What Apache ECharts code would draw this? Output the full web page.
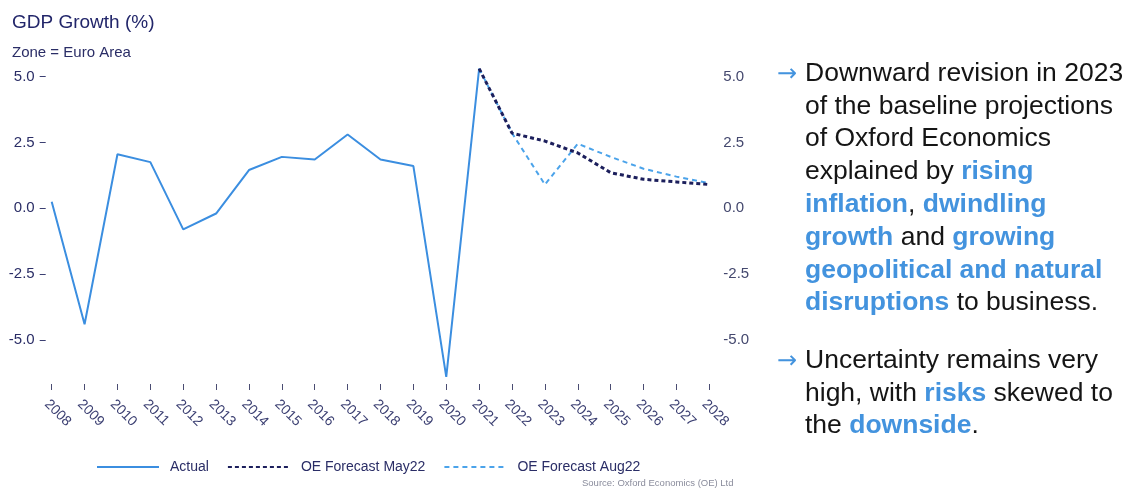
<!DOCTYPE html>
<html>
<head>
<meta charset="utf-8">
<script src="https://cdn.jsdelivr.net/npm/echarts@6/dist/echarts.min.js"></script>
<style>
  html, body { margin: 0; padding: 0; background: #fff; }
  #chart { width: 1127px; height: 488px; }
</style>
</head>
<body>
<div id="chart"></div>
<script>
const years = ["2008", "2009", "2010", "2011", "2012", "2013", "2014", "2015", "2016", "2017", "2018",
  "2019", "2020", "2021", "2022", "2023", "2024", "2025", "2026", "2027", "2028"];
const actual = [0.25, -4.4, 2.05, 1.75, -0.8, -0.2, 1.45, 1.95, 1.85, 2.8, 1.85, 1.6, -6.4, 5.3,
  null, null, null, null, null, null, null];
const forecastMay22 = [null, null, null, null, null, null, null, null, null, null, null, null, null,
  5.3, 2.85, 2.55, 2.1, 1.35, 1.1, 1.0, 0.9];
const forecastAug22 = [null, null, null, null, null, null, null, null, null, null, null, null, null,
  5.3, 2.85, 0.9, 2.45, 1.95, 1.5, 1.2, 0.95];
const yTicks = [-5, -2.5, 0, 2.5, 5];

const font = "Liberation Sans, Arial, sans-serif";
const navy = "#2a2d66";
const blue = "#4393de";

const chart = echarts.init(document.getElementById("chart"));

const fmt = v => v.toFixed(1);

const textRich = {
  n: { fontSize: 26.5, lineHeight: 32.8, fill: "#151515", fontFamily: font },
  b: { fontSize: 26.5, lineHeight: 32.8, fill: blue, fontWeight: "bold", fontFamily: font }
};

const option = {
  animation: false,
  textStyle: { fontFamily: font },
  title: {
    text: "GDP Growth (%)",
    subtext: "Zone = Euro Area",
    left: 12,
    top: 13,
    padding: 0,
    itemGap: 13,
    textStyle: { fontSize: 19, fontWeight: "normal", color: "#22266a", fontFamily: font },
    subtextStyle: { fontSize: 15, color: navy, fontFamily: font }
  },
  grid: { left: 51.7, right: 417.7, top: 60.7, bottom: 104 },
  legend: {
    left: 91,
    top: 455,
    itemWidth: 62,
    itemHeight: 14,
    itemGap: 18,
    itemStyle: { opacity: 0 },
    textStyle: { fontSize: 14, color: navy, fontFamily: font, padding: [0, 0, 0, 6] },
    data: ["Actual", "OE Forecast May22", "OE Forecast Aug22"]
  },
  xAxis: {
    type: "category",
    data: years,
    boundaryGap: false,
    axisLine: { show: false, onZero: false },
    axisTick: { show: true, length: 6, lineStyle: { color: "#4a4d72", width: 1 } },
    axisLabel: { rotate: -45, margin: 13, verticalAlign: "top", fontSize: 14, color: "#3b3f72", fontFamily: font }
  },
  yAxis: [
    {
      type: "value",
      min: -6.67,
      max: 5.6,
      position: "left",
      offset: 6,
      splitLine: { show: false },
      axisLine: { show: false },
      axisTick: { show: true, length: 6, customValues: yTicks, lineStyle: { color: "#3b3f72" } },
      axisLabel: { customValues: yTicks, formatter: fmt, margin: 11, fontSize: 15, color: navy, fontFamily: font }
    },
    {
      type: "value",
      min: -6.67,
      max: 5.6,
      position: "right",
      splitLine: { show: false },
      axisLine: { show: false },
      axisTick: { show: false },
      axisLabel: { customValues: yTicks, formatter: fmt, margin: 14, fontSize: 15, color: "#44486e", fontFamily: font }
    }
  ],
  series: [
    {
      name: "Actual",
      type: "line",
      data: actual,
      symbol: "none",
      z: 2,
      lineStyle: { color: "#3b8ee0", width: 2 },
      itemStyle: { color: "#3b8ee0" }
    },
    {
      name: "OE Forecast May22",
      type: "line",
      data: forecastMay22,
      symbol: "none",
      z: 4,
      lineStyle: { color: "#1c1f5c", width: 3, type: [4, 3] },
      itemStyle: { color: "#1c1f5c" }
    },
    {
      name: "OE Forecast Aug22",
      type: "line",
      data: forecastAug22,
      symbol: "none",
      z: 3,
      lineStyle: { color: "#4ba3ea", width: 2, type: [5, 4] },
      itemStyle: { color: "#4ba3ea" }
    }
  ],
  graphic: [
    {
      type: "text",
      left: 582,
      top: 478,
      style: { text: "Source: Oxford Economics (OE) Ltd", fontSize: 9.5, fill: "#8a8c9c", fontFamily: font }
    },
    {
      type: "text",
      left: 777,
      top: 63,
      style: { text: "→", fontSize: 24, fill: blue, fontFamily: "DejaVu Sans" }
    },
    {
      type: "text",
      left: 805,
      top: 60,
      style: {
        text: [
          "{n|Downward revision in 2023}",
          "{n|of the baseline projections}",
          "{n|of Oxford Economics}",
          "{n|explained by }{b|rising}",
          "{b|inflation}{n|, }{b|dwindling}",
          "{b|growth}{n| and }{b|growing}",
          "{b|geopolitical and natural}",
          "{b|disruptions}{n| to business.}"
        ].join("\n"),
        rich: textRich
      }
    },
    {
      type: "text",
      left: 777,
      top: 350,
      style: { text: "→", fontSize: 24, fill: blue, fontFamily: "DejaVu Sans" }
    },
    {
      type: "text",
      left: 805,
      top: 347,
      style: {
        text: [
          "{n|Uncertainty remains very}",
          "{n|high, with }{b|risks}{n| skewed to}",
          "{n|the }{b|downside}{n|.}"
        ].join("\n"),
        rich: textRich
      }
    }
  ]
};

chart.setOption(option);
</script>
</body>
</html>
